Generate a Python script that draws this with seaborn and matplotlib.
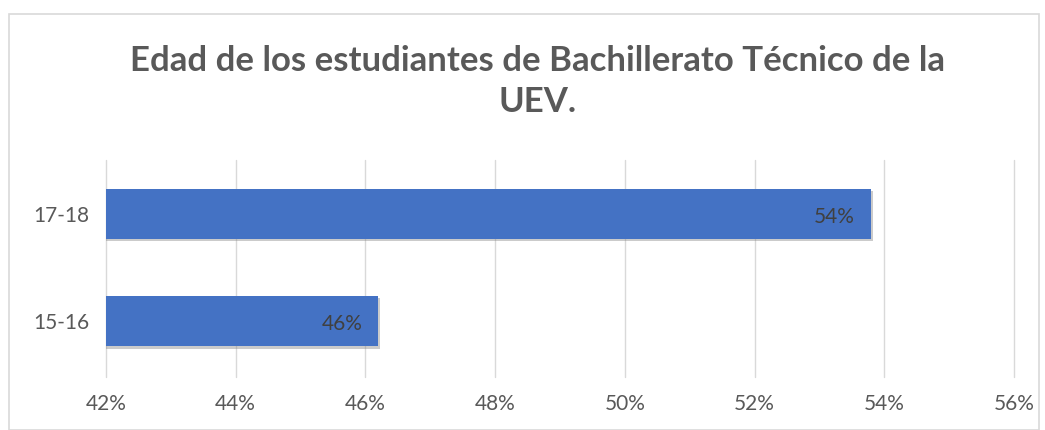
import pandas as pd
import seaborn as sns
import matplotlib.pyplot as plt
import matplotlib.patheffects as pe
from matplotlib.patches import Rectangle

# data
edades = ['17-18', '15-16']
porcentajes = [53.8, 46.2]
etiquetas = ['54%', '46%']
ticks = [42, 44, 46, 48, 50, 52, 54, 56]

df = pd.DataFrame({'edad': edades, 'pct': porcentajes})

sns.set_style('white')
plt.rcParams['font.family'] = ['Lato', 'DejaVu Sans']
gris = '#595959'

fig = plt.figure(figsize=(10.45, 4.30), dpi=100)
ax = fig.add_axes([106 / 1045, 53 / 430, 908 / 1045, 217 / 430])

sns.barplot(data=df, y='edad', x='pct', orient='h', color='#4472C4',
            saturation=1, width=0.47, linewidth=0, ax=ax)
for p in ax.patches:
    p.set_path_effects([pe.SimplePatchShadow(offset=(1.5, -1.5), shadow_rgbFace='#7f7f7f', alpha=0.4),
                        pe.Normal()])

ax.set_xlim(42, 56)
ax.set_ylim(1.52, -0.505)
ax.set_xticks(ticks)
ax.set_xticklabels([f'{t}%' for t in ticks])
ax.grid(axis='x', color='#D9D9D9', linewidth=1)
for gl in ax.get_xgridlines():
    gl.set_clip_on(False)
ax.set_axisbelow(True)
for s in ax.spines.values():
    s.set_visible(False)
ax.tick_params(axis='both', length=0, labelsize=15, labelcolor=gris)
ax.tick_params(axis='x', pad=12)
ax.tick_params(axis='y', pad=12)
ax.set_xlabel('')
ax.set_ylabel('')

for i, (v, t) in enumerate(zip(porcentajes, etiquetas)):
    ax.text(v - 0.25, i + 0.03, t, ha='right', va='center', fontsize=15, color='#404040')

fig.text(0.514, 0.81, 'Edad de los estudiantes de Bachillerato Técnico de la\nUEV.',
         ha='center', va='center', fontsize=25, fontweight='bold', color=gris,
         linespacing=1.36)

fig.patches.append(Rectangle((9 / 1045, 0), 1030 / 1045, 416 / 430, transform=fig.transFigure,
                             fill=False, edgecolor='#D9D9D9', linewidth=1.2))

fig.savefig('out.png', dpi=100)
